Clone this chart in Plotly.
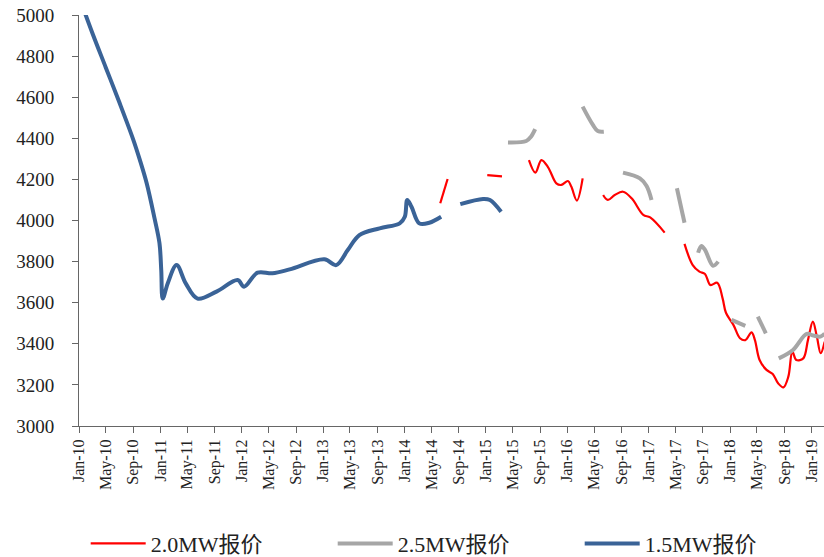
import plotly.graph_objects as go

# 1.5MW bid prices (yuan/kW); None marks a break in the series
dates_15 = [
    "2010-01-01", "2010-03-01", "2010-05-01", "2010-07-01", "2010-09-01",
    "2010-10-01", "2010-11-01", "2010-12-06", "2010-12-28", "2011-01-05",
    "2011-01-12", "2011-02-03", "2011-03-15", "2011-04-25", "2011-06-17",
    "2011-09-10", "2011-12-14", "2012-01-12", "2012-03-12", "2012-05-18",
    "2012-08-03", "2013-01-06", "2013-02-28", "2013-04-21", "2013-06-12",
    "2013-09-11", "2013-12-10", "2014-01-02", "2014-01-13", "2014-02-01",
    "2014-03-08", "2014-04-22", "2014-06-14", "2014-07-25", "2014-09-08",
    "2014-12-19", "2015-01-19", "2015-03-10",
]
price_15 = [
    5090, 4915, 4745, 4575, 4395,
    4295, 4180, 4010, 3890, 3760,
    3620, 3694, 3783, 3694, 3620,
    3654, 3710, 3678, 3746, 3743,
    3762, 3811, 3783, 3856, 3929,
    3962, 3986, 4018, 4100, 4067,
    3986, 3989, 4018, None, 4080,
    4105, 4100, 4043,
]

# 2.0MW bid prices
dates_20 = [
    "2014-06-10", "2014-07-13", "2014-10-01", "2015-01-07", "2015-03-14",
    "2015-05-10", "2015-07-13", "2015-08-11", "2015-09-07", "2015-10-07",
    "2015-11-13", "2015-12-05", "2016-01-04", "2016-01-19", "2016-02-13",
    "2016-03-10", "2016-04-25", "2016-06-10", "2016-07-01", "2016-08-01",
    "2016-09-07", "2016-10-16", "2016-12-07", "2017-01-07", "2017-03-13",
    "2017-05-01", "2017-06-10", "2017-07-17", "2017-08-16", "2017-09-10",
    "2017-10-04", "2017-11-04", "2017-11-28", "2017-12-13", "2018-01-16",
    "2018-02-14", "2018-03-10", "2018-04-07", "2018-04-22", "2018-05-13",
    "2018-06-13", "2018-07-11", "2018-08-04", "2018-08-28", "2018-09-19",
    "2018-10-07", "2018-10-25", "2018-11-25", "2018-12-16", "2019-01-07",
    "2019-01-25", "2019-02-11", "2019-03-01",
]
price_20 = [
    4084, 4202, None, 4221, 4215,
    None, 4294, 4233, 4294, 4259,
    4181, 4173, 4192, 4165, 4097,
    4205, None, 4124, 4100, 4124,
    4140, 4108, 4027, 4015, 3941,
    None, 3886, 3783, 3751, 3740,
    3686, 3697, 3621, 3551, 3491,
    3427, 3418, 3456, 3418, 3321,
    3273, 3253, 3208, 3188, 3240,
    3362, 3321, 3329, 3418, 3508,
    3435, 3354, 3410,
]

# 2.5MW bid prices
dates_25 = [
    "2015-04-10", "2015-07-01", "2015-07-22", "2015-08-10", "2015-12-01",
    "2016-03-10", "2016-04-25", "2016-05-17", "2016-06-13", "2016-07-25",
    "2016-09-07", "2016-11-22", "2016-12-22", "2017-01-13", "2017-03-10",
    "2017-05-07", "2017-06-10", "2017-07-10", "2017-08-10", "2017-08-25",
    "2017-09-10", "2017-10-16", "2017-11-08", "2017-12-10", "2018-01-07",
    "2018-03-10", "2018-04-07", "2018-05-05", "2018-06-10", "2018-07-10",
    "2018-08-07", "2018-10-10", "2018-12-10", "2019-01-10", "2019-02-10",
    "2019-03-01",
]
price_25 = [
    4380, 4387, 4408, 4445, None,
    4554, 4465, 4435, 4432, None,
    4233, 4205, 4168, 4100, None,
    4157, 3989, None, 3843, 3876,
    3857, 3780, 3800, None, 3516,
    3487, None, 3532, 3451, None,
    3329, 3370, 3448, 3440, 3435,
    3450,
]

series = [
    ("2.0MW报价", dates_20, price_20, "#FF0000", 2.2),
    ("2.5MW报价", dates_25, price_25, "#A6A6A6", 4),
    ("1.5MW报价", dates_15, price_15, "#3A6397", 4),
]

fig = go.Figure()
for name, xs, ys, color, width in series:
    fig.add_trace(go.Scatter(
        x=xs, y=ys, name=name, mode="lines",
        line=dict(color=color, width=width, shape="spline", smoothing=1.0),
        connectgaps=False,
    ))

serif = "Liberation Serif, Times New Roman, Noto Sans CJK SC, serif"

fig.update_layout(
    width=824, height=557,
    margin=dict(l=79, r=0, t=15, b=131),
    paper_bgcolor="white", plot_bgcolor="white",
    font=dict(family=serif, color="#222"),
    showlegend=True,
    legend=dict(
        orientation="h",
        xref="container", yref="container",
        x=0.104, y=0.024, xanchor="left", yanchor="middle",
        entrywidth=177, entrywidthmode="pixels",
        itemwidth=55,
        font=dict(size=22, family=serif, color="#222"),
        bgcolor="rgba(0,0,0,0)",
    ),
)

fig.update_xaxes(
    type="date",
    range=["2010-01-01", "2019-02-26"],
    tick0="2010-01-01", dtick="M4", tickformat="%b-%y",
    tickangle=-90,
    tickfont=dict(size=16, family=serif, color="#222"),
    ticks="outside", ticklen=6, tickcolor="#666",
    showline=True, linecolor="#666", linewidth=1,
    showgrid=False, zeroline=False,
)

fig.update_yaxes(
    range=[3000, 5000], dtick=200,
    tickfont=dict(size=19, family=serif, color="#222"),
    ticks="outside", ticklen=6, tickcolor="#666",
    ticklabelstandoff=14,
    showline=True, linecolor="#666", linewidth=1,
    showgrid=False, zeroline=False,
)

fig.write_html("out.html")
